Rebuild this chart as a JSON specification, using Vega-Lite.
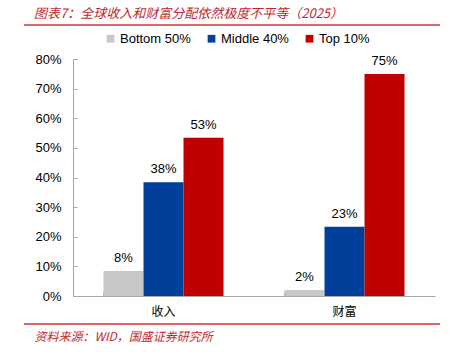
{
  "$schema": "https://vega.github.io/schema/vega-lite/v6.json",
  "width": 362,
  "height": 237,
  "autosize": {"type": "none"},
  "padding": {"left": 73, "top": 59, "right": 22, "bottom": 56},
  "background": "white",
  "config": {
    "view": {"stroke": null},
    "font": "Liberation Sans"
  },
  "title": {
    "text": "图表7：全球收入和财富分配依然极度不平等（2025）",
    "anchor": "start",
    "frame": "group",
    "dx": -39,
    "font": "Noto Sans CJK SC",
    "fontSize": 13,
    "fontStyle": "italic",
    "fontWeight": "normal",
    "color": "#C0272D",
    "offset": 3
  },
  "data": {
    "values": [
      {"cat": "收入", "group": "Bottom 50%", "value": 0.084},
      {"cat": "收入", "group": "Middle 40%", "value": 0.384},
      {"cat": "收入", "group": "Top 10%", "value": 0.534},
      {"cat": "财富", "group": "Bottom 50%", "value": 0.02},
      {"cat": "财富", "group": "Middle 40%", "value": 0.234},
      {"cat": "财富", "group": "Top 10%", "value": 0.749}
    ]
  },
  "layer": [
    {
      "layer": [
        {
          "mark": {"type": "bar"},
          "encoding": {
            "x": {
              "field": "cat",
              "type": "nominal",
              "sort": ["收入", "财富"],
              "scale": {"paddingInner": 0.337, "paddingOuter": 0.1685},
              "axis": {
                "title": "资料来源：WID，国盛证券研究所",
                "titleAnchor": "start",
                "titleAlign": "left",
                "titleX": -39,
                "titleY": 44,
                "titleBaseline": "alphabetic",
                "titleFont": "Noto Sans CJK SC",
                "titleFontSize": 12,
                "titleFontStyle": "italic",
                "titleFontWeight": "normal",
                "titleColor": "#C0272D",
                "labelAngle": 0,
                "labelFont": "Noto Sans CJK SC",
                "labelFontSize": 12,
                "labelColor": "#000000",
                "labelPadding": 14,
                "domainColor": "#A6A6A6",
                "tickColor": "#A6A6A6",
                "tickSize": -4,
                "bandPosition": 0
              }
            },
            "xOffset": {
              "field": "group",
              "type": "nominal",
              "sort": ["Bottom 50%", "Middle 40%", "Top 10%"],
              "scale": {"paddingInner": 0, "paddingOuter": 0}
            },
            "y": {
              "field": "value",
              "type": "quantitative",
              "scale": {"domain": [0, 0.8]},
              "axis": {
                "title": null,
                "format": ".0%",
                "values": [0, 0.1, 0.2, 0.3, 0.4, 0.5, 0.6, 0.7, 0.8],
                "labelOverlap": false,
                "grid": false,
                "labelFontSize": 13,
                "labelColor": "#000000",
                "labelPadding": 16,
                "domainColor": "#A6A6A6",
                "tickColor": "#A6A6A6",
                "tickSize": -4
              }
            },
            "color": {
              "field": "group",
              "type": "nominal",
              "sort": ["Bottom 50%", "Middle 40%", "Top 10%"],
              "scale": {
                "domain": ["Bottom 50%", "Middle 40%", "Top 10%"],
                "range": ["#C8C8C8", "#00409A", "#C00000"]
              },
              "legend": {
                "title": null,
                "orient": "none",
                "direction": "horizontal",
                "legendX": 31,
                "legendY": -27,
                "symbolType": "square",
                "symbolSize": 60,
                "symbolStrokeWidth": 0,
                "labelFontSize": 13,
                "labelColor": "#000000",
                "labelOffset": 3,
                "columnPadding": 14
              }
            }
          }
        },
        {
          "mark": {"type": "text", "baseline": "alphabetic", "dy": -9, "fontSize": 13, "color": "#000000"},
          "encoding": {
            "x": {"field": "cat", "type": "nominal", "sort": ["收入", "财富"]},
            "xOffset": {"field": "group", "type": "nominal", "sort": ["Bottom 50%", "Middle 40%", "Top 10%"]},
            "y": {
              "field": "value",
              "type": "quantitative",
              "axis": {
                "title": null,
                "format": ".0%",
                "values": [0, 0.1, 0.2, 0.3, 0.4, 0.5, 0.6, 0.7, 0.8],
                "labelOverlap": false,
                "grid": false,
                "labelFontSize": 13,
                "labelColor": "#000000",
                "labelPadding": 16,
                "domainColor": "#A6A6A6",
                "tickColor": "#A6A6A6",
                "tickSize": -4
              }
            },
            "text": {"field": "value", "type": "quantitative", "format": ".0%"}
          }
        }
      ]
    },
    {
      "data": {"values": [{"pos": 0.9148}, {"pos": -0.0945}]},
      "mark": {"type": "rule", "color": "#D0363E", "strokeWidth": 1.5},
      "encoding": {
        "y": {
          "field": "pos",
          "type": "quantitative",
          "axis": {
            "title": null,
            "format": ".0%",
            "values": [0, 0.1, 0.2, 0.3, 0.4, 0.5, 0.6, 0.7, 0.8],
            "labelOverlap": false,
            "grid": false,
            "labelFontSize": 13,
            "labelColor": "#000000",
            "labelPadding": 16,
            "domainColor": "#A6A6A6",
            "tickColor": "#A6A6A6",
            "tickSize": -4
          }
        },
        "x": {"datum": -0.1354, "type": "quantitative", "scale": {"domain": [0, 1]}, "axis": null},
        "x2": {"datum": 1.0138}
      }
    }
  ],
  "resolve": {"scale": {"x": "independent"}, "axis": {"x": "independent"}}
}
